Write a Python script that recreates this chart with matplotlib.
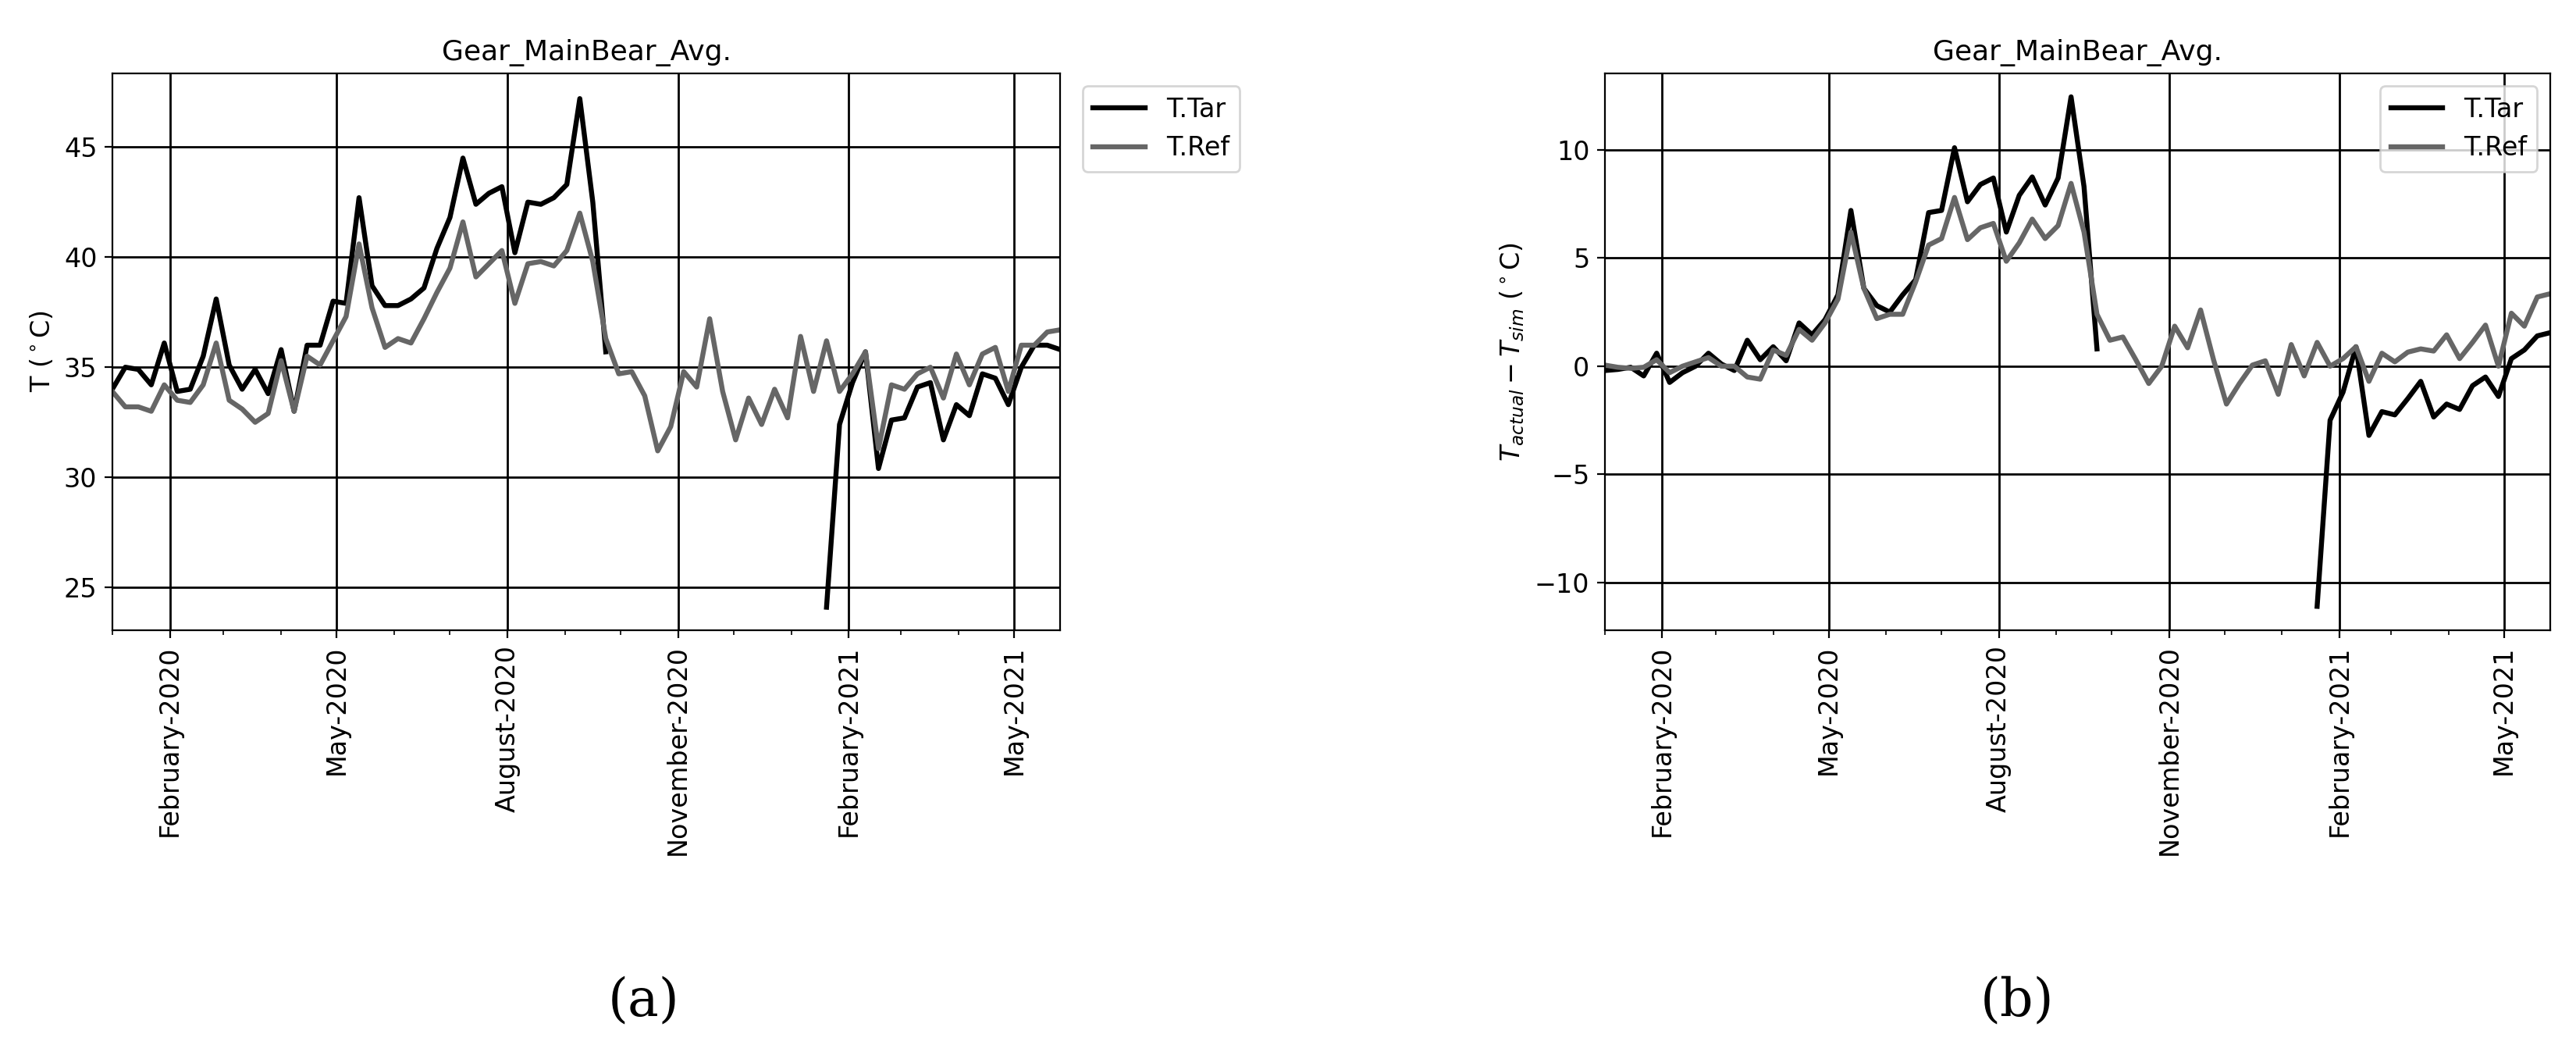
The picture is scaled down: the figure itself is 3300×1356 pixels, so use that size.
import numpy as np
import pandas as pd
import matplotlib
matplotlib.use('Agg')
import matplotlib.pyplot as plt
import matplotlib.dates as mdates

nan = np.nan
dates = pd.date_range('2020-01-01', periods=74, freq='7D')

# left panel: absolute temperatures
tar_abs = [34.0, 35.0, 34.9, 34.2, 36.1, 33.9, 34.0, 35.5, 38.1, 35.1, 34.0, 34.9, 33.8, 35.8, 33.0,
           36.0, 36.0, 38.0, 37.9, 42.7, 38.7, 37.8, 37.8, 38.1, 38.6, 40.4, 41.8, 44.5, 42.4, 42.9,
           43.2, 40.2, 42.5, 42.4, 42.7, 43.3, 47.2, 42.5, 35.7] + [nan] * 16 + \
          [24.1, 32.4, 34.3, 35.7, 30.4, 32.6, 32.7, 34.1, 34.3, 31.7, 33.3, 32.8, 34.7, 34.5, 33.3,
           35.0, 36.0, 36.0, 35.8]
ref_abs = [33.9, 33.2, 33.2, 33.0, 34.2, 33.5, 33.4, 34.2, 36.1, 33.5, 33.1, 32.5, 32.9, 35.3, 33.0,
           35.5, 35.1, 36.2, 37.3, 40.6, 37.7, 35.9, 36.3, 36.1, 37.2, 38.4, 39.5, 41.6, 39.1, 39.7,
           40.3, 37.9, 39.7, 39.8, 39.6, 40.3, 42.0, 39.8, 36.3, 34.7, 34.8, 33.7, 31.2, 32.3, 34.8,
           34.1, 37.2, 33.9, 31.7, 33.6, 32.4, 34.0, 32.7, 36.4, 33.9, 36.2, 33.9, 34.7, 35.7, 31.3,
           34.2, 34.0, 34.7, 35.0, 33.6, 35.6, 34.2, 35.6, 35.9, 33.9, 36.0, 36.0, 36.6, 36.7]

# right panel: T_actual - T_sim
tar_diff = [-0.2, -0.15, -0.05, -0.45, 0.6, -0.75, -0.3, 0.0, 0.6, 0.1, -0.2, 1.2, 0.3, 0.9, 0.25,
            2.0, 1.45, 2.15, 3.3, 7.2, 3.6, 2.8, 2.5, 3.3, 4.0, 7.1, 7.2, 10.1, 7.6, 8.4,
            8.7, 6.2, 7.9, 8.75, 7.45, 8.7, 12.45, 8.3, 0.8] + [nan] * 16 + \
           [-11.1, -2.5, -1.2, 0.9, -3.2, -2.1, -2.25, -1.5, -0.7, -2.35, -1.75, -2.0, -0.9, -0.5, -1.4,
            0.35, 0.75, 1.4, 1.55]
ref_diff = [0.05, -0.05, -0.1, -0.05, 0.3, -0.3, 0.0, 0.2, 0.4, 0.0, 0.0, -0.5, -0.6, 0.75, 0.5,
            1.7, 1.2, 2.0, 3.1, 6.2, 3.6, 2.2, 2.4, 2.4, 3.9, 5.6, 5.9, 7.8, 5.85, 6.4,
            6.6, 4.85, 5.7, 6.8, 5.9, 6.5, 8.45, 6.2, 2.4, 1.2, 1.35, 0.3, -0.8, 0.0, 1.85,
            0.85, 2.6, 0.3, -1.75, -0.8, 0.05, 0.25, -1.3, 1.0, -0.45, 1.1, 0.0, 0.35, 0.9, -0.7,
            0.6, 0.2, 0.65, 0.8, 0.7, 1.45, 0.35, 1.1, 1.9, 0.0, 2.45, 1.85, 3.2, 3.35]

title = 'Gear_MainBear_Avg.'

fig = plt.figure(figsize=(16.5, 6.78), dpi=200)
ax1 = fig.add_axes([0.0436, 0.405, 0.368, 0.526])
ax2 = fig.add_axes([0.623, 0.405, 0.367, 0.526])

for ax, tar, ref in [(ax1, tar_abs, ref_abs), (ax2, tar_diff, ref_diff)]:
    ax.plot(dates, tar, color='black', lw=2.3, label='T.Tar')
    ax.plot(dates, ref, color='#666666', lw=2.3, label='T.Ref')
    ax.set_title(title, fontsize=13)
    ax.set_xlim(dates[0], dates[-1])
    ax.xaxis.set_major_locator(mdates.MonthLocator(bymonth=[2, 5, 8, 11]))
    ax.xaxis.set_minor_locator(mdates.MonthLocator())
    ax.xaxis.set_major_formatter(mdates.DateFormatter('%B-%Y'))
    ax.tick_params(axis='x', labelrotation=90, labelsize=12)
    ax.tick_params(axis='y', labelsize=12)
    ax.grid(True, which='major', color='black', lw=1)

ax1.set_ylim(23.06, 48.36)
ax1.set_ylabel(r'T ($^\circ$C)', fontsize=12)
ax1.legend(loc='upper left', bbox_to_anchor=(1.01, 1.0), fontsize=12)

ax2.set_ylim(-12.2, 13.55)
ax2.set_ylabel(r'$T_{actual} - T_{sim}$ ($^\circ$C)', fontsize=12)
ax2.legend(loc='upper right', fontsize=12)

fig.text(0.25, 0.055, '(a)', ha='center', va='center', fontsize=24, family='DejaVu Serif')
fig.text(0.783, 0.055, '(b)', ha='center', va='center', fontsize=24, family='DejaVu Serif')

fig.savefig('out.png', dpi=200)
